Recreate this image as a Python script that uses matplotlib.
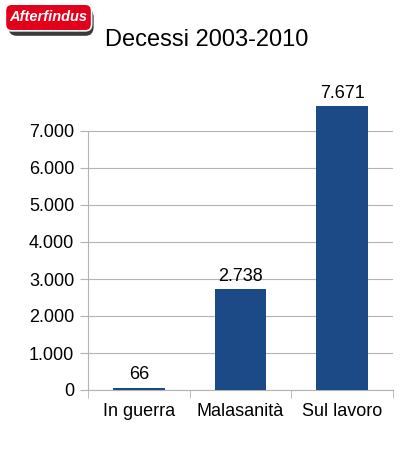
import matplotlib
matplotlib.use("Agg")
import matplotlib.pyplot as plt
from matplotlib.patches import FancyBboxPatch
from matplotlib.ticker import FuncFormatter, FixedLocator

categories = ["In guerra", "Malasanità", "Sul lavoro"]
deaths = [66, 2738, 7671]
y_ticks = [0, 1000, 2000, 3000, 4000, 5000, 6000, 7000]


def dotted(v):
    return f"{int(round(v)):,}".replace(",", ".")


plt.rcParams["font.family"] = ["Liberation Sans", "DejaVu Sans"]

fig = plt.figure(figsize=(4.1, 4.53), dpi=100)
ax = fig.add_axes([88 / 410, 63 / 453, 305 / 410, 330 / 453])

bar_color = "#1b4a87"
grid_color = "#b3b3b3"

x = list(range(len(categories)))
ax.bar(x, deaths, width=0.51, color=bar_color, zorder=3)
for xi, v in zip(x, deaths):
    ax.annotate(dotted(v), (xi, v), xytext=(0, 3), textcoords="offset points",
                ha="center", va="bottom", fontsize=13)

ax.set_xlim(-0.5, 2.5)
ax.set_ylim(0, 7000 * 330 / 259)
ax.set_yticks(y_ticks)
ax.yaxis.set_major_formatter(FuncFormatter(lambda v, p: dotted(v)))
ax.grid(axis="y", color=grid_color, linewidth=0.8, zorder=0)

ax.set_xticks(x)
ax.set_xticklabels(categories)
ax.xaxis.set_minor_locator(FixedLocator([-0.5, 0.5, 1.5, 2.5]))
ax.tick_params(axis="x", which="major", length=0, labelsize=13, pad=9)
ax.tick_params(axis="x", which="minor", length=6, color=grid_color, direction="out")
ax.tick_params(axis="y", length=6, color=grid_color, labelsize=13, pad=4)

for s in ["top", "right"]:
    ax.spines[s].set_visible(False)
ax.spines["left"].set_color(grid_color)
ax.spines["left"].set_bounds(0, 7000)
ax.spines["bottom"].set_color(grid_color)

fig.text(207 / 410, 1 - 40 / 453, "Decessi 2003-2010", ha="center", va="center", fontsize=17)

# logo: dark swoosh under a red rounded label
fig.patches.append(FancyBboxPatch((10 / 410, 1 - 34 / 453), 82 / 410, 24 / 453,
                                  boxstyle="round,pad=0.004,rounding_size=0.02",
                                  transform=fig.transFigure, facecolor="#3a3a3a",
                                  edgecolor="none"))
fig.patches.append(FancyBboxPatch((7 / 410, 1 - 29 / 453), 83 / 410, 23 / 453,
                                  boxstyle="round,pad=0.004,rounding_size=0.015",
                                  transform=fig.transFigure, facecolor="#e3001b",
                                  edgecolor="white", linewidth=1.2))
fig.text(48 / 410, 1 - 17 / 453, "Afterfindus", ha="center", va="center", color="white",
         fontsize=10.5, fontstyle="italic", fontweight="bold")

fig.savefig("out.png", dpi=100)
